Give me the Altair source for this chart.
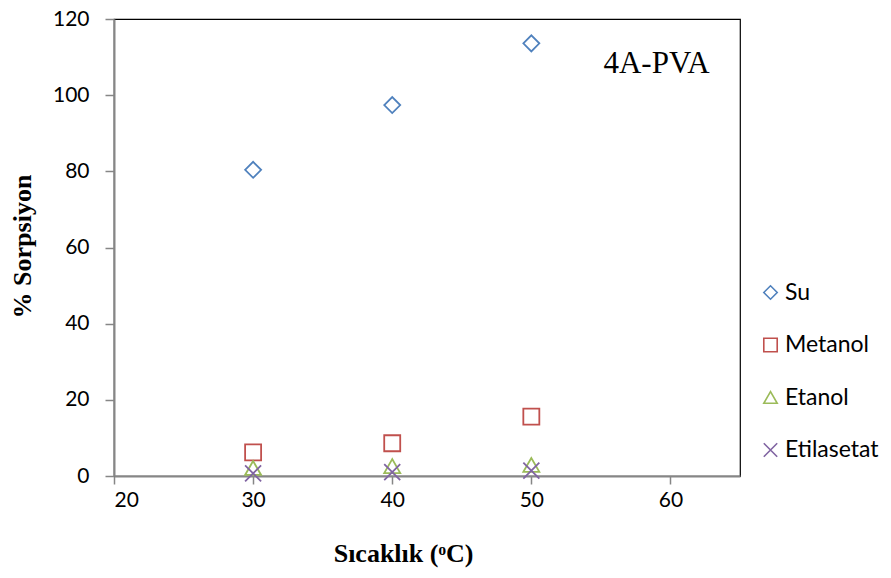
import altair as alt
import pandas as pd

temps = [30, 40, 50]
su = [80.4, 97.4, 113.6]
metanol = [6.2, 8.6, 15.6]
etanol = [2.1, 2.6, 2.9]
etilasetat = [0.7, 1.0, 1.4]
series = ["Su", "Metanol", "Etanol", "Etilasetat"]
colors = ["#4F81BD", "#C0504D", "#9BBB59", "#8064A2"]
shapes = ["diamond", "square", "triangle-up", "M-1,-1L1,1M-1,1L1,-1"]

rows = []
for name, vals in zip(series, [su, metanol, etanol, etilasetat]):
    for t, v in zip(temps, vals):
        rows.append({"T": t, "S": v, "Seri": name})
df = pd.DataFrame(rows)

label_df = pd.DataFrame({"T": [59.0], "S": [108.3], "txt": ["4A-PVA"]})

xscale = alt.Scale(domain=[20, 65], nice=False, zero=False)
yscale = alt.Scale(domain=[0, 120], nice=False)

leg = alt.Legend(title=None, orient="none", legendX=645, legendY=262,
                 labelFontSize=23, labelFont="Lato", labelColor="#000000",
                 symbolSize=180, symbolStrokeWidth=1.6, rowPadding=28.5,
                 labelOffset=3, padding=0)

points = alt.Chart(df).mark_point(filled=False, size=256, strokeWidth=1.8, opacity=1).encode(
    x=alt.X("T:Q", scale=xscale,
            axis=alt.Axis(values=[20, 30, 40, 50, 60], title="Sıcaklık (ᵒC)",
                          titleX=289, titleY=77, titleBaseline="middle", titleAlign="center")),
    y=alt.Y("S:Q", scale=yscale,
            axis=alt.Axis(values=[0, 20, 40, 60, 80, 100, 120], title="% Sorpsiyon",
                          titleX=-92, titleY=227, titleAngle=270,
                          titleBaseline="middle", titleAlign="center")),
    stroke=alt.Stroke("Seri:N", scale=alt.Scale(domain=series, range=colors), legend=leg),
    shape=alt.Shape("Seri:N", scale=alt.Scale(domain=series, range=shapes), legend=leg),
)

text = alt.Chart(label_df).mark_text(font="Liberation Serif", fontSize=31, color="#000000").encode(
    x=alt.X("T:Q", scale=xscale),
    y=alt.Y("S:Q", scale=yscale),
    text="txt:N",
)

chart = alt.layer(points, text).properties(
    width=626, height=457,
    autosize=alt.AutoSizeParams(type="none"),
    padding={"left": 106, "top": 11, "right": 143, "bottom": 94},
).configure_view(
    stroke="#000000", strokeWidth=1.2
).configure_axis(
    domainColor="#868686", domainWidth=2, tickColor="#868686", tickWidth=1.5,
    grid=False, labelFont="Lato", labelFontSize=21, labelColor="#000000",
    titleFont="Liberation Serif", titleFontSize=26, titleColor="#000000", titleFontWeight="bold",
).configure_axisY(
    tickSize=9, labelPadding=16,
).configure_axisX(
    tickSize=8, labelPadding=5,
)

chart.save("out.html", embed_options={"renderer": "svg", "actions": False})
